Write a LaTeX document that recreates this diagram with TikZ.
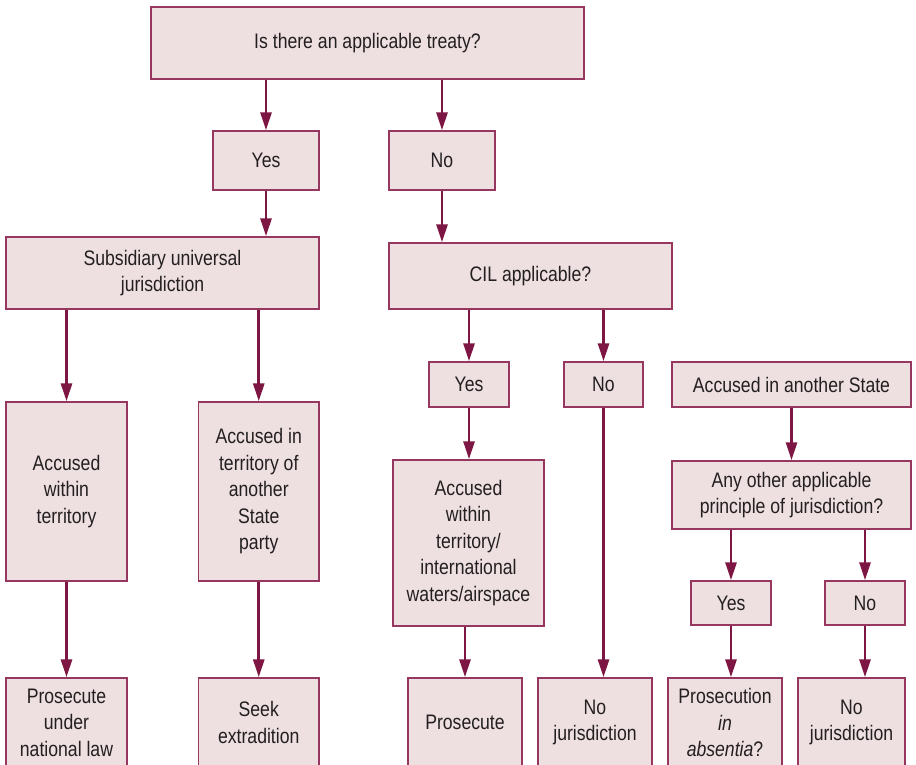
\documentclass[tikz,border=0pt]{standalone}
\usepackage{fontspec}
\setmainfont{Liberation Sans}[FakeStretch=0.84]
\usetikzlibrary{arrows.meta}
\definecolor{arrowcol}{RGB}{125,22,66}
\definecolor{bordcol}{RGB}{150,55,95}
\definecolor{boxfill}{RGB}{238,223,225}
\definecolor{txtcol}{RGB}{35,31,32}
\tikzset{
  box/.style={draw=bordcol, fill=boxfill, line width=1.4pt, inner sep=0pt,
    align=center, text=txtcol, font=\fontsize{21}{26.5}\selectfont},
  arr/.style={draw=arrowcol, line width=2.7pt,
    -{Triangle[length=18pt,width=11pt]}},
}
\begin{document}
\begin{tikzpicture}[x=1pt,y=-1pt]
\useasboundingbox (0,0) rectangle (916,765);
\clip (0,0) rectangle (916,765);

% first question and its answers
\node[box, minimum width=433pt, minimum height=72pt] (top) at (367.5,43) {Is there an applicable treaty?};
\node[box, minimum width=106pt, minimum height=59pt] (yesA) at (266,160.5) {Yes};
\node[box, minimum width=106pt, minimum height=59pt] (noA) at (442,160.5) {No};

% treaty branch
\node[box, minimum width=313pt, minimum height=72pt] (sub) at (162.5,273) {Subsidiary universal\\jurisdiction};
\node[box, minimum width=121pt, minimum height=179pt] (accW) at (66.5,491.5) {Accused\\within\\territory};
\node[box, minimum width=120.5pt, minimum height=179pt] (accT) at (258.75,491.5) {Accused in\\territory of\\another\\State\\party};
\node[box, minimum width=121pt, minimum height=89pt] (prosN) at (66.5,722.5) {Prosecute\\under\\national law};
\node[box, minimum width=120.5pt, minimum height=89pt] (seek) at (258.75,722.5) {Seek\\extradition};

% customary international law branch
\node[box, minimum width=283pt, minimum height=66pt] (cil) at (530.5,276) {CIL applicable?};
\node[box, minimum width=80pt, minimum height=45pt] (yesB) at (469,384.5) {Yes};
\node[box, minimum width=79pt, minimum height=45pt] (noB) at (603.5,384.5) {No};
\node[box, minimum width=151pt, minimum height=166pt] (accI) at (468.5,543) {Accused\\within\\territory/\\international\\waters/airspace};
\node[box, minimum width=114pt, minimum height=89pt] (pros) at (465,722.5) {Prosecute};
\node[box, minimum width=114pt, minimum height=89pt] (noJ1) at (595,722.5) {No\\jurisdiction};

% accused abroad
\node[box, minimum width=239pt, minimum height=45pt] (another) at (791.5,384.5) {Accused in another State};
\node[box, minimum width=239pt, minimum height=68pt] (anyo) at (791.5,495) {Any other applicable\\principle of jurisdiction?};
\node[box, minimum width=80pt, minimum height=44pt] (yesC) at (731,603) {Yes};
\node[box, minimum width=80pt, minimum height=44pt] (noC) at (865,603) {No};
\node[box, minimum width=114pt, minimum height=89pt] (absent) at (725,722.5) {Prosecution\\\textit{in}\\\textit{absentia}?};
\node[box, minimum width=107pt, minimum height=89pt] (noJ2) at (851.5,722.5) {No\\jurisdiction};

% connectors
\draw[arr] (top.south -| yesA) -- (yesA.north);
\draw[arr] (top.south -| noA) -- (noA.north);
\draw[arr] (yesA.south) -- (yesA.south |- sub.north);
\draw[arr] (noA.south) -- (noA.south |- cil.north);
\draw[arr] (sub.south -| accW) -- (accW.north);
\draw[arr] (sub.south -| accT) -- (accT.north);
\draw[arr] (accW.south) -- (prosN.north);
\draw[arr] (accT.south) -- (seek.north);
\draw[arr] (cil.south -| yesB) -- (yesB.north);
\draw[arr] (cil.south -| noB) -- (noB.north);
\draw[arr] (yesB.south) -- (yesB.south |- accI.north);
\draw[arr] (noB.south) -- (noB.south |- noJ1.north);
\draw[arr] (accI.south -| pros) -- (pros.north);
\draw[arr] (another.south) -- (anyo.north);
\draw[arr] (anyo.south -| yesC) -- (yesC.north);
\draw[arr] (anyo.south -| noC) -- (noC.north);
\draw[arr] (yesC.south) -- (yesC.south |- absent.north);
\draw[arr] (noC.south) -- (noC.south |- noJ2.north);
\end{tikzpicture}
\end{document}
